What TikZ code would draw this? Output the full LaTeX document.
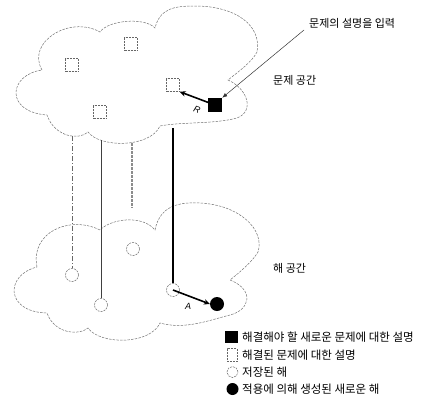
\documentclass[tikz,border=0pt]{standalone}
\usepackage{fontspec}
\newfontfamily\kr{Noto Sans CJK KR}
\setsansfont{Liberation Sans}
\usetikzlibrary{arrows.meta}
\begin{document}
\begin{tikzpicture}[x=1pt,y=-1pt,
  cloud/.style={draw=black!55, line width=0.5pt, dash pattern=on 2.5pt off 1.2pt},
  dsq/.style={draw=black!60, line width=0.5pt, dash pattern=on 2pt off 1pt, minimum width=13pt, minimum height=13pt, inner sep=0pt},
  dcirc/.style={circle, draw=black!60, line width=0.5pt, dash pattern=on 2pt off 1pt, minimum size=13pt, inner sep=0pt},
  bsq/.style={fill=black, minimum size=14pt, inner sep=0pt},
  bcirc/.style={circle, fill=black, minimum size=14pt, inner sep=0pt},
  lbl/.style={font=\kr\fontsize{11}{13}\selectfont, inner sep=0pt},
  leg/.style={font=\kr\fontsize{11.5}{13}\selectfont, inner sep=0pt, anchor=west},
  ital/.style={font=\sffamily\itshape\fontsize{9}{10}\selectfont, inner sep=0pt},
  fat/.style={line width=1.6pt, -{Stealth[length=6pt,width=5.5pt]}},
]
\useasboundingbox (0,0) rectangle (422,407);

% clouds
\draw[cloud] (42,70) .. controls (26,42) and (70,15) .. (100,32)
 .. controls (108,20) and (145,17) .. (155,28)
 .. controls (160,8) and (175,6) .. (195,6)
 .. controls (235,6) and (262,25) .. (257,52)
 .. controls (252,62) and (238,72) .. (228,80)
 .. controls (250,90) and (255,115) .. (233,119)
 .. controls (210,124) and (180,122) .. (160,126)
 .. controls (150,148) and (100,148) .. (88,132)
 .. controls (80,140) and (55,138) .. (47,115)
 .. controls (5,112) and (8,75) .. cycle;

\draw[cloud] (37,267) .. controls (30,232) and (70,215) .. (100,230)
 .. controls (112,218) and (143,215) .. (155,230)
 .. controls (160,205) and (180,202) .. (200,203)
 .. controls (240,205) and (265,230) .. (258,252)
 .. controls (252,262) and (240,272) .. (230,280)
 .. controls (255,290) and (250,310) .. (230,315)
 .. controls (210,320) and (185,330) .. (160,323)
 .. controls (150,345) and (100,345) .. (88,328)
 .. controls (80,335) and (55,335) .. (47,313)
 .. controls (5,312) and (5,275) .. cycle;

% problem space squares
\node[dsq] (s1) at (131,44) {};
\node[dsq] (s2) at (72,65) {};
\node[dsq] (s3) at (100,112) {};
\node[dsq] (s4) at (173,85) {};
\node[bsq] (bs) at (215,105) {};

% solution space circles
\node[dcirc] (c1) at (72,275) {};
\node[dcirc] (c2) at (101,305) {};
\node[dcirc] (c3) at (133,249) {};
\node[dcirc] (c4) at (173,290) {};
\node[bcirc] (bc) at (217,304) {};

% vertical links
\coordinate (t1) at (72,136);
\coordinate (t2) at (101,140);
\coordinate (t3) at (132,143);
\coordinate (e3) at (132,208);
\coordinate (t4) at (173,128);
\draw[black!60, line width=0.5pt, dash pattern=on 5pt off 2pt on 1pt off 2pt] (t1) -- (c1.north);
\draw[black!75, line width=0.6pt] (t2) -- (c2.north);
\draw[black!45, line width=1.2pt, dash pattern=on 3pt off 1pt] (t3) -- (e3);
\draw[black, line width=2.4pt] (t4) -- (c4.north);

% arrows R and A
\draw[fat] (bs.center) -- (s4.south east);
\node[ital, rotate=-20] (lr) at (197,110) {R};
\draw[fat] (c4.center) -- (bc.west);
\node[ital] (la) at (188,306) {A};

% input label and arrow
\node[lbl, anchor=west] (inp) at (309,23) {문제의 설명을 입력};
\coordinate (inpstart) at (304,30);
\draw[black!80, line width=0.5pt, -{Latex[length=5pt,width=4pt]}] (inpstart) -- (bs.north east);

\node[lbl, anchor=west] (ps) at (273,80) {문제 공간};
\node[lbl, anchor=west] (ss) at (273,268) {해 공간};

% legend
\node[fill=black, minimum width=13pt, minimum height=12pt, inner sep=0pt] (k1) at (231.5,337) {};
\node[draw=black!60, line width=0.5pt, dash pattern=on 2pt off 1pt, minimum width=10pt, minimum height=13pt, inner sep=0pt] (k2) at (232,355) {};
\node[circle, draw=black!60, line width=0.5pt, dash pattern=on 2pt off 1pt, minimum size=11pt, inner sep=0pt] (k3) at (232.5,372) {};
\node[circle, fill=black, minimum size=12pt, inner sep=0pt] (k4) at (232.5,389) {};
\node[leg] (k1t) at (242,337) {해결해야 할 새로운 문제에 대한 설명};
\node[leg] (k2t) at (242,355) {해결된 문제에 대한 설명};
\node[leg] (k3t) at (242,372) {저장된 해};
\node[leg] (k4t) at (242,389) {적용에 의해 생성된 새로운 해};
\end{tikzpicture}
\end{document}
